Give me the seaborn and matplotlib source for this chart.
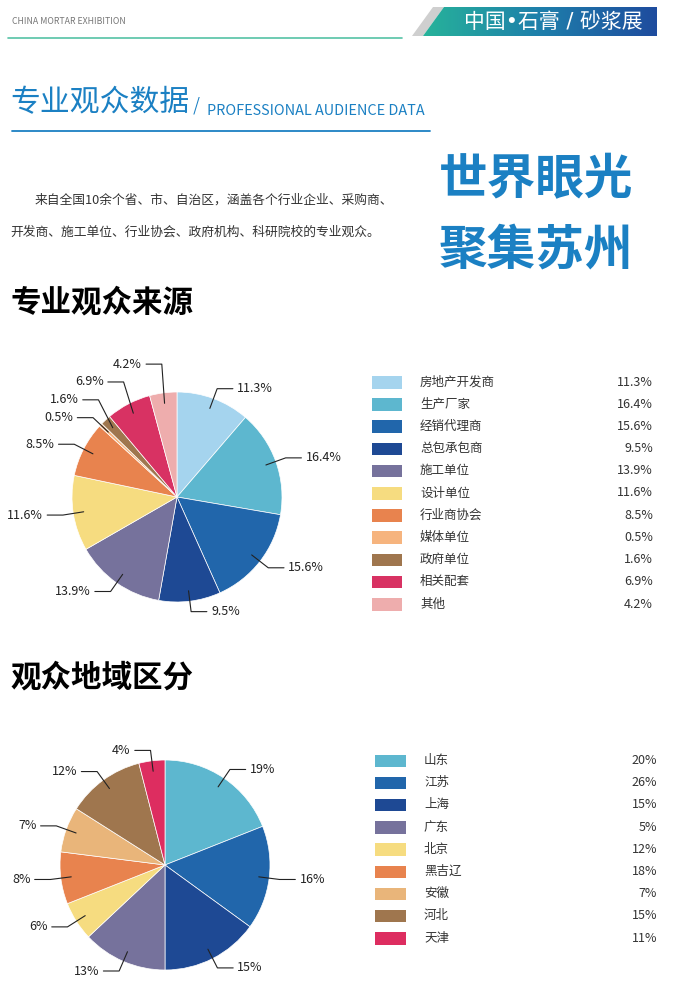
import numpy as np
import seaborn as sns
import matplotlib.pyplot as plt
from matplotlib.patches import Polygon, Rectangle
from matplotlib.colors import LinearSegmentedColormap

# chart data
source_labels = ["房地产开发商", "生产厂家", "经销代理商", "总包承包商", "施工单位", "设计单位",
                 "行业商协会", "媒体单位", "政府单位", "相关配套", "其他"]
source_values = [11.3, 16.4, 15.6, 9.5, 13.9, 11.6, 8.5, 0.5, 1.6, 6.9, 4.2]
source_colors = ["#a5d4ee", "#5db7cf", "#2166ab", "#1e4994", "#76729c", "#f6dc80",
                 "#e8834e", "#f6b47e", "#9f764e", "#d83263", "#eeadad"]

region_labels = ["山东", "江苏", "上海", "广东", "北京", "黑吉辽", "安徽", "河北", "天津"]
region_values = [19, 16, 15, 13, 6, 8, 7, 12, 4]
region_legend_values = ["20%", "26%", "15%", "5%", "12%", "18%", "7%", "15%", "11%"]
region_colors = ["#5db7cf", "#2166ab", "#1e4994", "#76729c", "#f6dc80", "#e8834e",
                 "#e9b57a", "#9f764e", "#dd2d60"]

W, H = 675, 990
BLUE = "#1b80c3"

sns.set_theme(style="white")
plt.rcParams["font.family"] = ["Noto Sans CJK SC", "DejaVu Sans"]

fig = plt.figure(figsize=(W / 100, H / 100), dpi=100)
bg = fig.add_axes([0, 0, 1, 1])
bg.axis("off")

# header
bg.text(12, 21, "CHINA MORTAR EXHIBITION", fontsize=6.3, color="#777777", va="center")
bg.plot([8, 402], [38, 38], color="#55c2a6", lw=1.2)
bg.add_patch(Polygon([[433, 7], [444, 7], [423, 36], [412, 36]], closed=True,
                     color="#cfcfcf", lw=0))
banner = Polygon([[444, 7], [657, 7], [657, 36], [423, 36]], closed=True,
                 facecolor="none", lw=0)
bg.add_patch(banner)
grad = np.linspace(0, 1, 256).reshape(1, -1)
cmap = LinearSegmentedColormap.from_list("bn", ["#27b39a", "#1e7fab", "#1f4c9e"])
im = bg.imshow(grad, cmap=cmap, extent=[423, 657, 36, 7], aspect="auto", zorder=1)
im.set_clip_path(banner)
bg.set_xlim(0, W)
bg.set_ylim(H, 0)
bg.text(553, 21.5, "中国•石膏 / 砂浆展", fontsize=15, color="white", ha="center",
        va="center", zorder=3, family=["DejaVu Sans", "Noto Sans CJK SC"])

# section title
bg.text(10, 103, "专业观众数据", fontsize=21.5, color=BLUE, va="center")
bg.text(193, 106, "/", fontsize=15, color=BLUE, va="center", family=["DejaVu Sans"],
        fontweight="light")
bg.text(207, 111, "PROFESSIONAL AUDIENCE DATA", fontsize=10.4, color=BLUE, va="center")
bg.plot([12, 430], [131, 131], color=BLUE, lw=1.3)

bg.text(35, 200, "来自全国10余个省、市、自治区，涵盖各个行业企业、采购商、",
        fontsize=9.2, color="#333333", va="center")
bg.text(10, 232, "开发商、施工单位、行业协会、政府机构、科研院校的专业观众。",
        fontsize=9.2, color="#333333", va="center")
bg.text(439, 180, "世界眼光", fontsize=35, color=BLUE, va="center", fontweight="bold")
bg.text(439, 250, "聚集苏州", fontsize=35, color=BLUE, va="center", fontweight="bold")

bg.text(10, 303, "专业观众来源", fontsize=22, color="black", va="center", fontweight="bold")
bg.text(10, 678, "观众地域区分", fontsize=22, color="black", va="center", fontweight="bold")


def pie_at(cx, cy, r, values, colors):
    half = 175
    ax = fig.add_axes([(cx - half) / W, 1 - (cy + half) / H, 2 * half / W, 2 * half / H])
    ax.pie(values, colors=colors, startangle=90, counterclock=False, radius=1,
           wedgeprops=dict(linewidth=0.5, edgecolor="white"))
    lim = half / r
    ax.set_xlim(-lim, lim)
    ax.set_ylim(-lim, lim)
    ax.set_aspect("equal")
    ax.axis("off")

    vals = np.array(values, dtype=float)
    mids = 90 - (np.cumsum(vals) - vals / 2) / vals.sum() * 360
    rad = np.deg2rad(mids)
    cosv, sinv = np.cos(rad), np.sin(rad)
    ex, ey = 1.1 * cosv, 1.1 * sinv
    # keep labels on each side apart
    for side in (1, -1):
        idx = [i for i in range(len(vals)) if np.sign(cosv[i]) == side]
        idx.sort(key=lambda i: ey[i])
        for a, b in zip(idx, idx[1:]):
            if ey[b] - ey[a] < 0.17:
                ey[b] = ey[a] + 0.17
    for i, v in enumerate(vals):
        side = 1 if cosv[i] >= 0 else -1
        x0, y0 = 0.9 * cosv[i], 0.9 * sinv[i]
        x2 = ex[i] + side * 0.15
        ax.plot([x0, ex[i], x2], [y0, ey[i], ey[i]], color="#222222", lw=0.8, clip_on=False)
        ax.text(x2 + side * 0.04, ey[i], f"{v:g}%", fontsize=9, color="#222222",
                ha="left" if side > 0 else "right", va="center")
    return ax


pie_at(177, 497, 105, source_values, source_colors)
pie_at(165, 865, 105, region_values, region_colors)

# legends
for i, (lab, val, col) in enumerate(zip(source_labels, source_values, source_colors)):
    y = 382 + i * 22.2
    bg.add_patch(Rectangle((372, y - 6), 30, 12.5, color=col, lw=0))
    bg.text(420, y, lab, fontsize=9, color="#333333", va="center")
    bg.text(653, y, f"{val:.1f}%", fontsize=9, color="#333333", va="center", ha="right")

for i, (lab, val, col) in enumerate(zip(region_labels, region_legend_values, region_colors)):
    y = 760.5 + i * 22.2
    bg.add_patch(Rectangle((375, y - 6), 31, 12.5, color=col, lw=0))
    bg.text(424, y, lab, fontsize=9, color="#333333", va="center")
    bg.text(657, y, val, fontsize=9, color="#333333", va="center", ha="right")

plt.savefig("out.png", dpi=100)
print("saved out.png")
